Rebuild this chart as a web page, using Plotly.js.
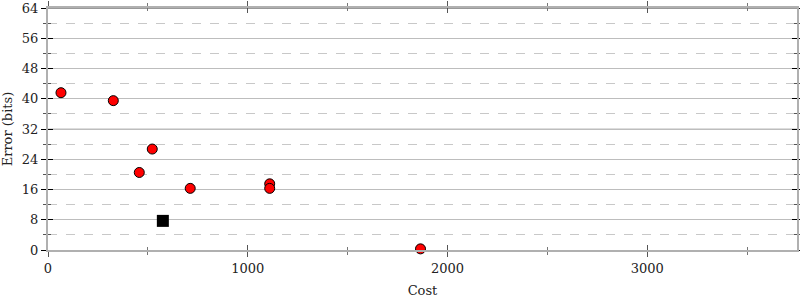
<!DOCTYPE html>
<html><head><meta charset="utf-8">
<script src="https://cdn.plot.ly/plotly-3.0.1.min.js"></script>
<style>html,body{margin:0;padding:0;background:#fff}#chart{width:800px;height:300px}</style>
</head><body><div id="chart"></div>
<script>
const costs = [65, 327, 522, 457, 712, 1110, 1110, 1865];
const errors = [41.6, 39.5, 26.7, 20.5, 16.3, 17.5, 16.3, 0.3];
const bestCost = [575];
const bestError = [7.7];
const yTicks = [0, 8, 16, 24, 32, 40, 48, 56, 64];
const xTicks = [0, 1000, 2000, 3000];
const xRange = [0, 3750];
const yRange = [0, 64];
const fontFam = 'DejaVu Serif, serif';

const traces = [
  {x: costs, y: errors, type: 'scatter', mode: 'markers', cliponaxis: false,
   marker: {color: '#ff0000', size: 10, line: {color: '#000', width: 1}}},
  {x: bestCost, y: bestError, type: 'scatter', mode: 'markers', cliponaxis: false,
   marker: {color: '#000', size: 12, symbol: 'square'}},
  {x: [], y: [], xaxis: 'x2', yaxis: 'y2'}
];

const common = {linecolor: '#b0b0b0', linewidth: 2, mirror: 'ticks', showline: true, zeroline: false};
const layout = {
  width: 800, height: 300,
  margin: {l: 48, r: 3, t: 8, b: 50},
  paper_bgcolor: '#fff', plot_bgcolor: '#fff',
  showlegend: false,
  font: {family: fontFam, size: 13, color: '#222'},
  xaxis: Object.assign({}, common, {
    range: xRange, tickvals: xTicks, ticktext: xTicks.map(String),
    ticks: 'outside', ticklen: 5, tickcolor: '#555', tickwidth: 1,
    showgrid: false,
    minor: {dtick: 500, tick0: 0, ticks: 'outside', ticklen: 3, tickcolor: '#777', showgrid: false},
    title: {text: 'Cost', font: {family: fontFam, size: 13}, standoff: 11}
  }),
  yaxis: Object.assign({}, common, {
    range: yRange, tickvals: yTicks, ticktext: yTicks.map(String),
    ticks: 'outside', ticklen: 5, tickcolor: '#000', tickwidth: 1,
    showgrid: true, gridcolor: '#bdbdbd', gridwidth: 1,
    minor: {dtick: 8, tick0: 4, ticks: 'outside', ticklen: 3, tickcolor: '#555',
            showgrid: true, gridcolor: '#c8c8c8', griddash: 'dash', gridwidth: 1},
    title: {text: 'Error (bits)', font: {family: fontFam, size: 13}, standoff: 8}
  }),
  xaxis2: {overlaying: 'x', anchor: 'y2', range: xRange, tickvals: xTicks, showticklabels: false,
    ticks: 'inside', ticklen: 5, tickcolor: '#555', showgrid: false, zeroline: false, showline: false, mirror: 'ticks',
    minor: {dtick: 500, tick0: 0, ticks: 'inside', ticklen: 3, tickcolor: '#777', showgrid: false}},
  yaxis2: {overlaying: 'y', anchor: 'x2', range: yRange, tickvals: yTicks, showticklabels: false,
    ticks: 'inside', ticklen: 5, tickcolor: '#000', showgrid: false, zeroline: false, showline: false, mirror: 'ticks',
    minor: {dtick: 8, tick0: 4, ticks: 'inside', ticklen: 3, tickcolor: '#555', showgrid: false}},
  shapes: [
    {type: 'line', xref: 'paper', x0: 0, x1: 1, yref: 'y', y0: 32, y1: 32, layer: 'below',
     line: {color: '#dddddd', width: 2}},
    {type: 'line', xref: 'paper', x0: 0, x1: 1, yref: 'y', y0: 64, y1: 64, layer: 'below',
     line: {color: '#999999', width: 2}}
  ]
};
Plotly.newPlot('chart', traces, layout, {displayModeBar: false, staticPlot: true});
</script></body></html>
